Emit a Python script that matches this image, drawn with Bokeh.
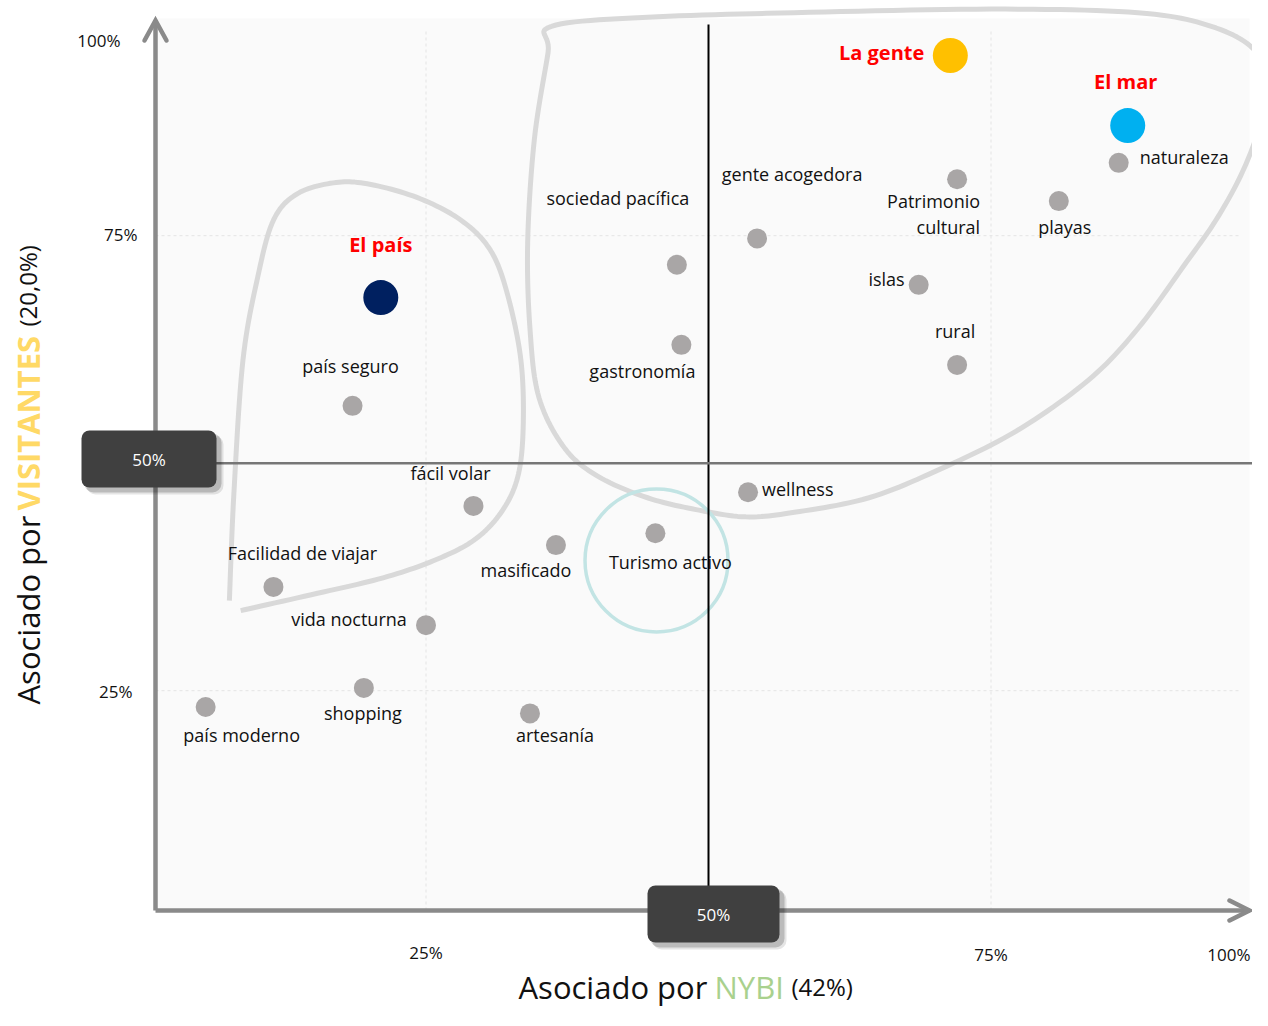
import math
from bokeh.plotting import figure
from bokeh.models import ColumnDataSource
from bokeh.core.properties import value
from bokeh.embed import file_html
from bokeh.resources import INLINE

# ---------------- data ----------------
attributes = ["naturaleza", "Patrimonio\ncultural", "playas", "gente acogedora",
              "sociedad pacífica", "islas", "gastronomía", "rural", "wellness",
              "Turismo activo", "país seguro", "fácil volar", "Facilidad de viajar",
              "vida nocturna", "masificado", "shopping", "país moderno", "artesanía"]
nybi = [86.3, 72.0, 81.0, 54.3, 47.2, 68.6, 47.6, 72.0, 53.5,
        45.3, 18.5, 29.2, 11.5, 25.0, 36.5, 19.5, 5.5, 34.2]
visitantes = [83.0, 81.2, 78.8, 74.7, 71.8, 69.6, 63.0, 60.8, 46.8,
              42.3, 56.3, 45.3, 36.4, 32.2, 41.0, 25.3, 23.2, 22.5]

themes = ["La gente", "El mar", "El país"]
theme_nybi = [71.4, 87.1, 21.0]
theme_visitantes = [94.8, 87.1, 68.2]
theme_colors = ["#FFC000", "#00B0F0", "#002060"]

x_ticks = [25, 75, 100]
x_tick_labels = ["25%", "75%", "100%"]
y_ticks = [25, 75, 100]
y_tick_labels = ["25%", "75%", "100%"]
midpoint = 50
midpoint_label = "50%"

# hand-drawn grouping outlines (in chart units, %)
left_loop_x = [7.6, 8.0, 8.8, 10.1, 11.5, 13.6, 16.8, 19.8, 24.2, 28.1, 30.7, 32.2, 33.4,
               33.6, 33.1, 31.6, 29.2, 25.7, 21.2, 15.4, 8.6]
left_loop_y = [34.9, 46.7, 61.3, 70.4, 76.7, 79.6, 80.8, 80.7, 79.2, 76.7, 73.4, 68.6, 61.3,
               53.9, 48.4, 44.5, 41.5, 39.3, 37.4, 35.7, 33.8]
big_loop_x = [36.1, 44.6, 57.6, 75.0, 88.0, 94.5, 98.4, 99.6, 98.7, 97.1, 94.9, 92.3, 88.0,
              83.6, 77.2, 70.6, 64.2, 57.6, 53.3, 48.9, 44.6, 40.3, 37.3, 35.0, 34.2, 34.0,
              34.6, 35.8]
big_loop_y = [98.0, 99.0, 99.5, 99.9, 99.5, 98.0, 95.3, 91.0, 86.6, 81.6, 76.7, 72.1, 64.8,
              59.1, 53.5, 49.4, 46.2, 44.6, 44.1, 44.9, 46.2, 48.5, 51.6, 57.2, 64.8, 74.4,
              85.7, 95.1]
focus_x = [45.4]
focus_y = [39.3]

# ---------------- layout (screen px) ----------------
label_layout = [(21, -6, "left"), (23, 35, "right"), (6, 26, "center"), (35, -64, "center"),
                (-59, -67, "center"), (-14, -6, "right"), (-39, 26, "center"), (-2, -34, "center"),
                (14, -3, "left"), (15, 29, "center"), (-2, -40, "center"), (-23, -33, "center"),
                (29, -34, "center"), (-77, -6, "center"), (-30, 25, "center"), (-1, 25, "center"),
                (36, 28, "center"), (25, 22, "center")]
theme_layout = [(-26, -3, "right"), (-2, -44, "center"), (0, -53, "center")]

W, H = 1252, 1010
SX, SY = 11.3, 9.1                     # px per percentage point
X_START = 50 - 708 / SX
X_END = X_START + W / SX
Y_END = 50 + 462.67 / SY
Y_START = Y_END - H / SY


def px2x(px):
    return X_START + px / SX


def py2y(py):
    return Y_END - py / SY


def smooth(xs, ys, closed=False, n=12):
    pts = list(zip(xs, ys))
    if closed:
        ext = [pts[-1]] + pts + [pts[0], pts[1]]
        segs = len(pts)
    else:
        ext = [pts[0]] + pts + [pts[-1]]
        segs = len(pts) - 1
    ox, oy = [], []
    for i in range(segs):
        p0, p1, p2, p3 = ext[i], ext[i + 1], ext[i + 2], ext[i + 3]
        for k in range(n):
            t = k / n
            t2, t3 = t * t, t * t * t
            for arr, j in ((ox, 0), (oy, 1)):
                arr.append(0.5 * ((2 * p1[j]) + (-p0[j] + p2[j]) * t +
                                  (2 * p0[j] - 5 * p1[j] + 4 * p2[j] - p3[j]) * t2 +
                                  (-p0[j] + 3 * p1[j] - 3 * p2[j] + p3[j]) * t3))
    last = pts[0] if closed else pts[-1]
    ox.append(last[0])
    oy.append(last[1])
    return ox, oy


FONT = "Open Sans"
AXIS_C = "#8A8A8A"

p = figure(width=W, height=H, x_range=(X_START, X_END), y_range=(Y_START, Y_END),
           output_backend="svg", toolbar_location=None, min_border=0,
           x_axis_location=None, y_axis_location=None)
p.grid.visible = False
p.outline_line_color = None
p.background_fill_color = "white"
p.border_fill_color = "white"

AX0 = px2x(155)
AY0 = py2y(910)
X_TIP = px2x(1249)
Y_TIP = py2y(20)

# plot area background
p.quad(left=[AX0], right=[X_TIP], bottom=[AY0], top=[py2y(18)], fill_color="#FAFAFA", line_color=None)

# faint dashed gridlines
p.segment(x0=x_ticks[:2], y0=[AY0] * 2, x1=x_ticks[:2], y1=[py2y(30)] * 2,
          line_color="#E4E4E4", line_width=1, line_dash="3 3")
p.segment(x0=[AX0] * 2, y0=y_ticks[:2], x1=[px2x(1240)] * 2, y1=y_ticks[:2],
          line_color="#E4E4E4", line_width=1, line_dash="3 3")

# grouping outlines
lx, ly = smooth(left_loop_x, left_loop_y, closed=False)
p.line(lx, ly, line_color="#D9D9D9", line_width=5, line_join="round", line_cap="butt")
bx, by = smooth(big_loop_x, big_loop_y, closed=True)
p.line(bx, by, line_color="#D9D9D9", line_width=5, line_join="round")

# focus circle
p.scatter(x=focus_x, y=focus_y, size=143, marker="circle", fill_color=None,
          line_color="#C2E4E4", line_width=3.5)

# attribute points
src = ColumnDataSource(dict(
    x=nybi, y=visitantes, label=attributes,
    dx=[l[0] for l in label_layout], dy=[l[1] for l in label_layout],
    align=[l[2] for l in label_layout]))
p.scatter("x", "y", source=src, size=20, marker="circle", fill_color="#A9A6A6", line_color=None)
p.text("x", "y", text="label", source=src, x_offset="dx", y_offset="dy",
       text_align="align", text_baseline="middle", text_font=value(FONT),
       text_font_size="18px", text_color="#111111", text_line_height=1.1)

# theme points
tsrc = ColumnDataSource(dict(
    x=theme_nybi, y=theme_visitantes, label=themes, color=theme_colors,
    dx=[l[0] for l in theme_layout], dy=[l[1] for l in theme_layout],
    align=[l[2] for l in theme_layout]))
p.scatter("x", "y", source=tsrc, size=35, marker="circle", fill_color="color", line_color=None)
p.text("x", "y", text="label", source=tsrc, x_offset="dx", y_offset="dy",
       text_align="align", text_baseline="middle", text_font=value(FONT),
       text_font_size="20px", text_font_style="bold", text_color="#FF0000")

# quadrant lines
p.segment(x0=[midpoint], y0=[AY0], x1=[midpoint], y1=[py2y(24)], line_color="black", line_width=2)
p.segment(x0=[AX0], y0=[midpoint], x1=[px2x(1257)], y1=[midpoint], line_color="#767676", line_width=2.5)

# axes with open arrowheads (drawn as glyphs so the boxes sit on top)
p.segment(x0=[AX0, AX0], y0=[AY0, AY0], x1=[AX0, X_TIP], y1=[Y_TIP, AY0],
          line_color=AXIS_C, line_width=4.5)
p.line([px2x(144), AX0, px2x(166)], [py2y(40), Y_TIP, py2y(40)],
       line_color=AXIS_C, line_width=4.5, line_join="miter", line_cap="round")
p.line([px2x(1229), X_TIP, px2x(1229)], [py2y(900), AY0, py2y(920)],
       line_color=AXIS_C, line_width=4.5, line_join="miter", line_cap="round")

# 50% boxes (with soft shadow)
box_x = [px2x(148.5), px2x(713)]
box_y = [py2y(458.5), py2y(913.5)]
box_w = [135, 132]
for off, alpha in ((6, 0.10), (4, 0.18)):
    p.rect(x=[bx_ + off / SX for bx_ in box_x], y=[by_ - off / SY for by_ in box_y],
           width=[w + 2 for w in box_w], height=59, width_units="screen", height_units="screen",
           fill_color="black", fill_alpha=alpha, line_color=None, border_radius=9)
p.rect(x=box_x, y=box_y, width=box_w, height=57, width_units="screen", height_units="screen",
       fill_color="#404040", line_color=None, border_radius=8)
p.text(x=box_x, y=box_y, text=[midpoint_label] * 2, text_align="center", text_baseline="middle",
       text_font=value(FONT), text_font_size="17px", text_color="white")

# tick labels
p.text(x=[AX0] * 3, y=y_ticks, text=y_tick_labels, x_offset=[-23, -18, -35], y_offset=[1, -1, 32],
       text_align="right", text_baseline="middle", text_font=value(FONT),
       text_font_size="17px", text_color="#111111")
p.text(x=x_ticks, y=[AY0] * 3, text=x_tick_labels, x_offset=[0, 0, -23], y_offset=[42, 44, 44],
       text_align=["center", "center", "right"], text_baseline="middle", text_font=value(FONT),
       text_font_size="17px", text_color="#111111")

# axis titles (multi-coloured)
ty = py2y(986)
p.text(x=[px2x(518)], y=[ty], text=["Asociado por"], text_align="left", text_baseline="alphabetic",
       text_font=value(FONT), text_font_size="31px", text_color="#111111")
p.text(x=[px2x(714)], y=[ty], text=["NYBI"], text_align="left", text_baseline="alphabetic",
       text_font=value(FONT), text_font_size="31px", text_color="#A9D18E")
p.text(x=[px2x(791)], y=[ty], text=["(42%)"], text_align="left", text_baseline="alphabetic",
       text_font=value(FONT), text_font_size="24px", text_color="#111111")

tx = px2x(27)
p.text(x=[tx], y=[py2y(704)], text=["Asociado por"], angle=math.pi / 2, text_align="left",
       text_baseline="alphabetic", text_font=value(FONT), text_font_size="31px", text_color="#111111")
p.text(x=[tx], y=[py2y(510)], text=["VISITANTES"], angle=math.pi / 2, text_align="left",
       text_baseline="alphabetic", text_font=value(FONT), text_font_size="31px",
       text_font_style="bold", text_color="#FFD966")
p.text(x=[tx], y=[py2y(326)], text=["(20,0%)"], angle=math.pi / 2, text_align="left",
       text_baseline="alphabetic", text_font=value(FONT), text_font_size="24px", text_color="#111111")

open("out.html", "w").write(file_html(p, INLINE))
